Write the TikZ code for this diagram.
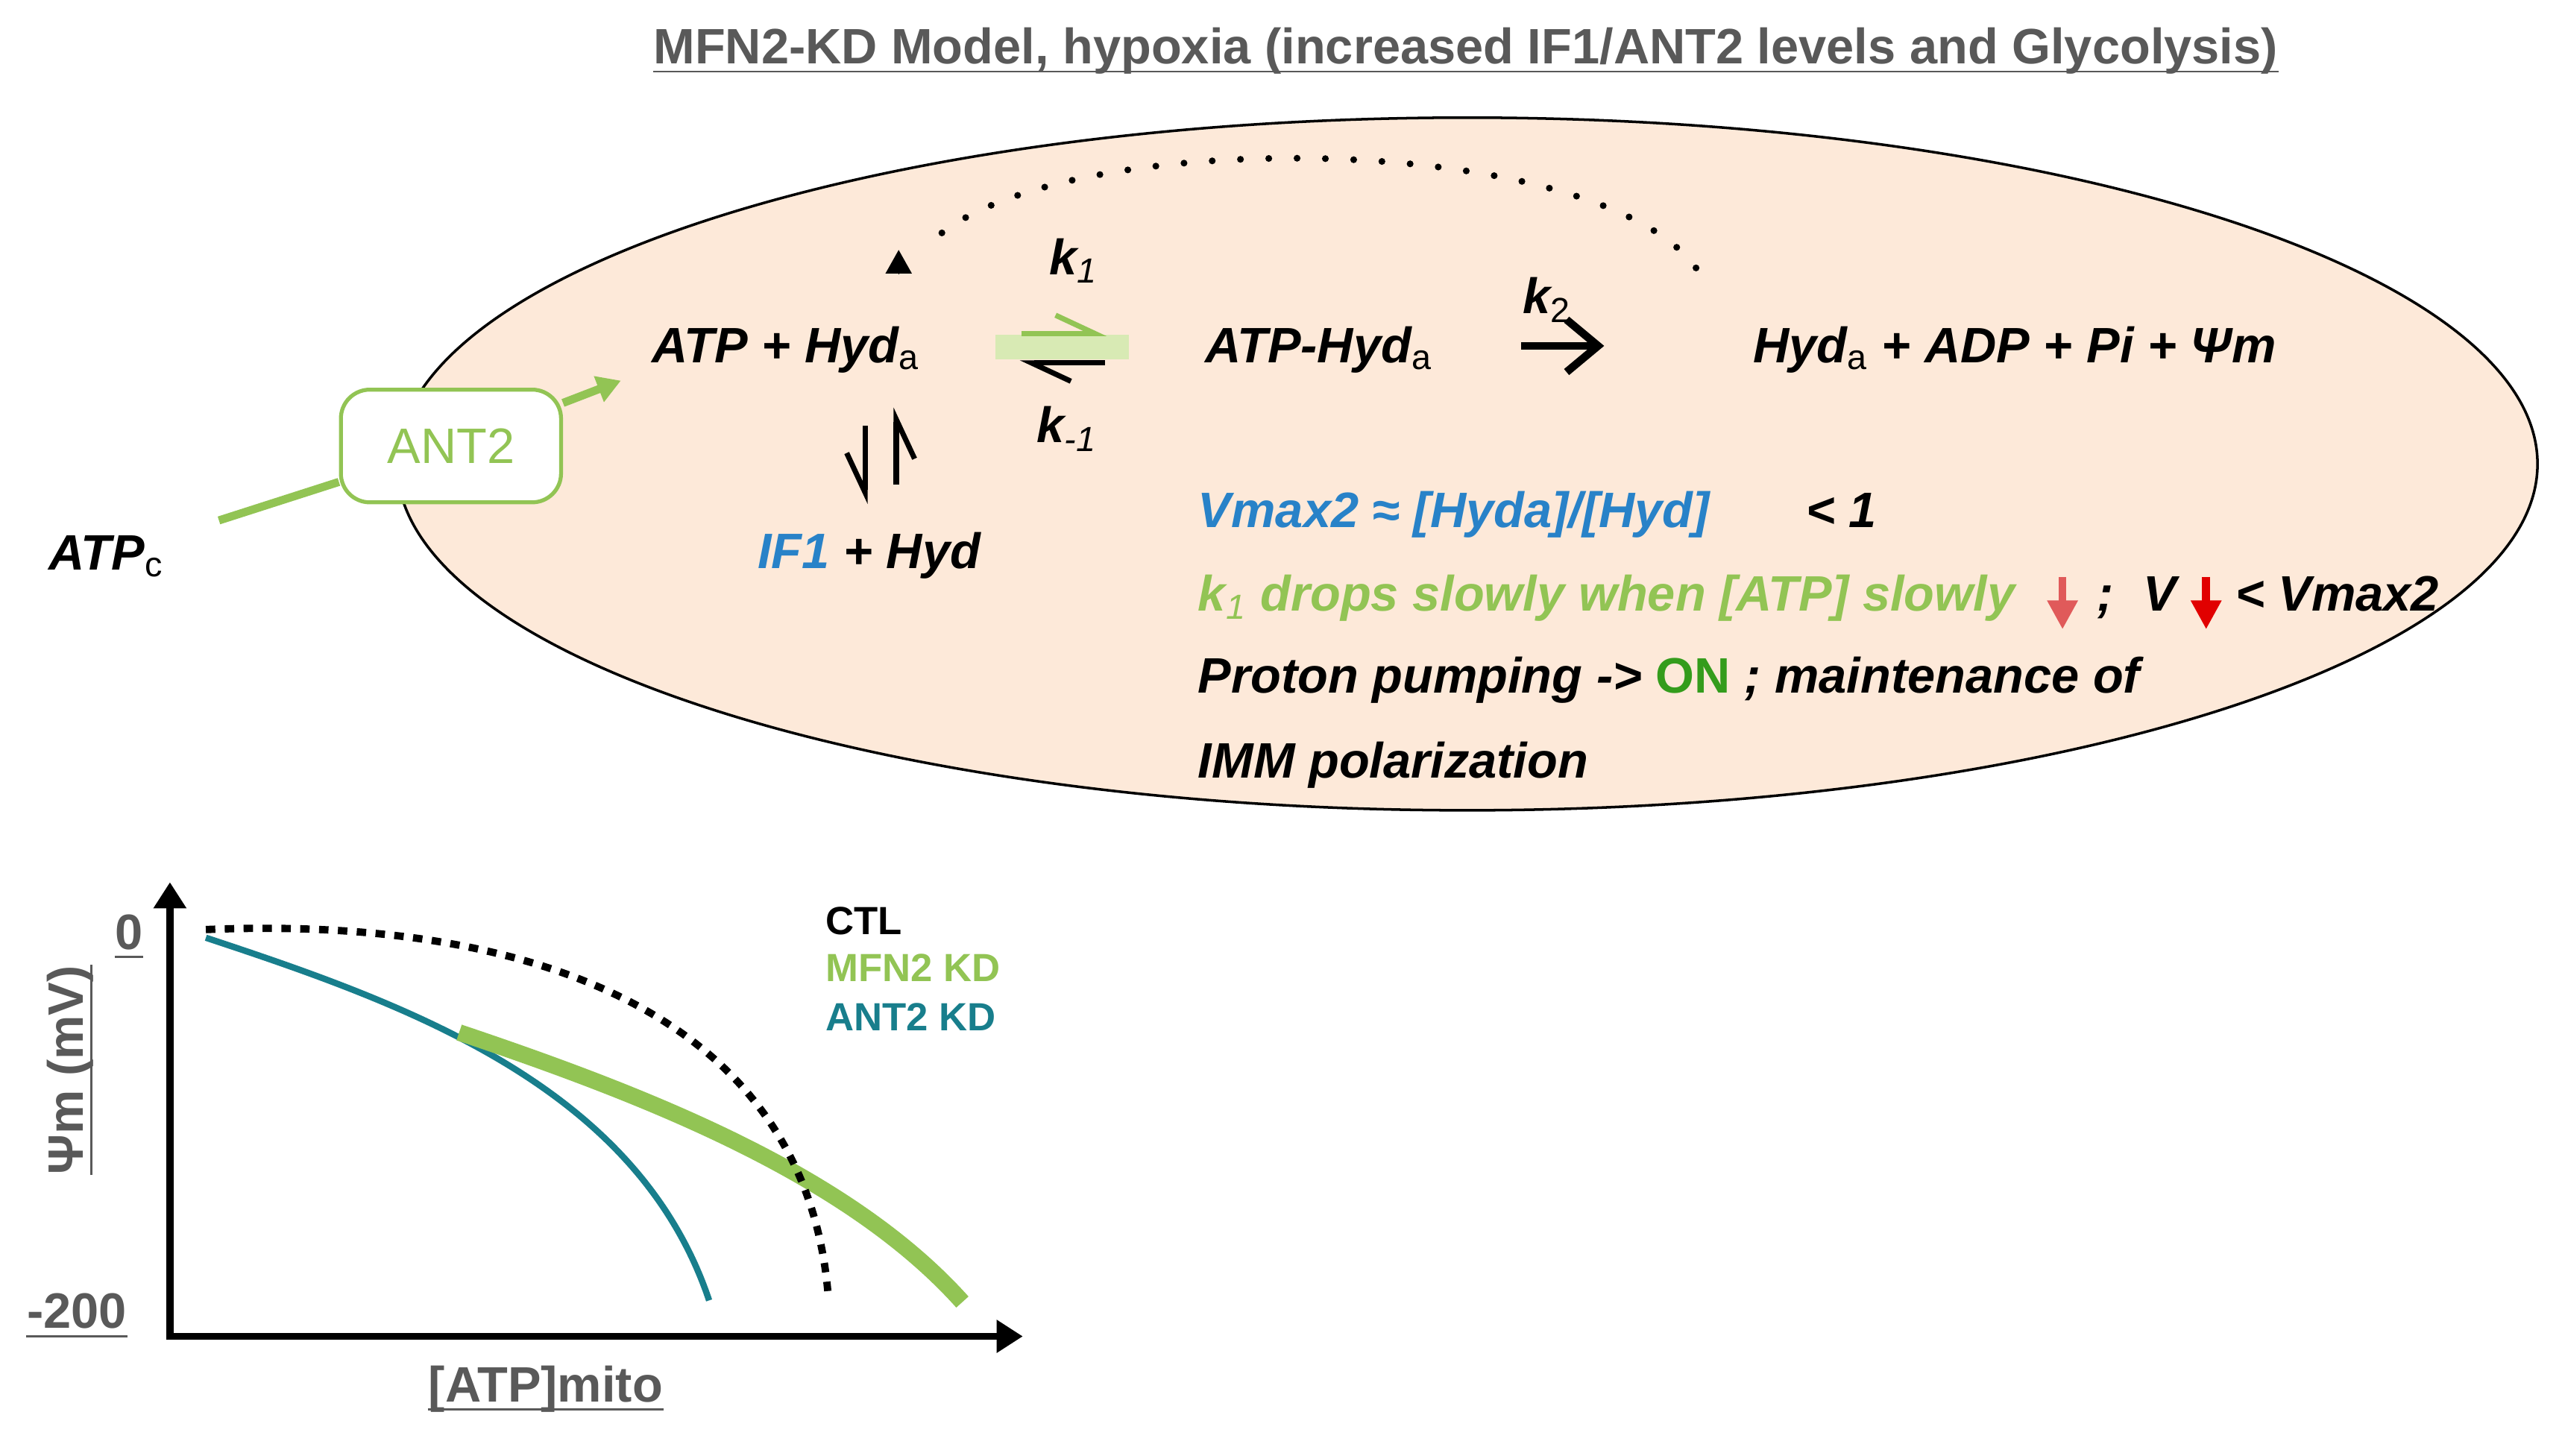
\documentclass[tikz,border=0pt]{standalone}
\usepackage{fontspec}
\setmainfont{Liberation Sans}
\usepackage{tikz}
\usetikzlibrary{arrows.meta,positioning,calc}
\definecolor{peach}{RGB}{253,233,217}
\definecolor{leaf}{RGB}{146,196,84}
\definecolor{paleleaf}{RGB}{216,234,180}
\definecolor{ongreen}{RGB}{52,156,28}
\definecolor{sky}{RGB}{40,130,200}
\definecolor{petrol}{RGB}{24,126,140}
\definecolor{slate}{RGB}{89,89,89}
\definecolor{rose}{RGB}{224,90,90}
\definecolor{scarlet}{RGB}{225,0,0}
\newcommand{\rxfont}{\fontsize{19}{22}\selectfont\bfseries\itshape}
\newcommand{\lowidx}[1]{\textsubscript{\mdseries\upshape #1}}

\begin{document}
\begin{tikzpicture}[x=0.021913cm, y=-0.021913cm,
  rx/.style={inner sep=0pt, anchor=base, font=\rxfont},
  note/.style={inner sep=0pt, anchor=base west, font=\rxfont},
  axlabel/.style={inner sep=0pt, anchor=base, text=slate, font=\fontsize{19}{22}\selectfont\bfseries},
  legend/.style={inner sep=0pt, anchor=base west, font=\fontsize{15}{18}\selectfont\bfseries},
  uline/.style={slate, line width=0.8pt},
  antbox/.style={draw=leaf, line width=1.5pt, fill=white, rounded corners=11pt,
    minimum width=84pt, minimum height=43pt, text=leaf, font=\fontsize{19}{22}\selectfont},
  antline/.style={leaf, line width=3.1pt},
  eqarr/.style={line width=2pt, -{Straight Barb[harpoon, length=15pt, width=14pt]}},
  eqdown/.style={line width=2pt, -{Straight Barb[harpoon, swap, length=15pt, width=14pt]}},
  rxto/.style={line width=3pt, -{Straight Barb[length=12pt, width=20pt]}},
  feedback/.style={line width=2.6pt, line cap=round, dash pattern=on 0pt off 10.8pt},
  redarr/.style={line width=3pt, -{Triangle[length=11pt, width=11pt]}},
  axis/.style={line width=2.8pt, line join=miter,
    {Triangle[length=10pt, width=12pt]}-{Triangle[length=10pt, width=12pt]}},
  ctl/.style={line width=2.8pt, dash pattern=on 3.6pt off 3.6pt},
  antkd/.style={petrol, line width=2.4pt},
  mfnkd/.style={leaf, line width=6.3pt}]
\useasboundingbox (0,0) rectangle (1568,891);

% Title
\node[axlabel] (title) at (897,39) {MFN2-KD Model, hypoxia (increased IF1/ANT2 levels and Glycolysis)};
\draw[uline] ([yshift=-3pt]title.base west) -- ([yshift=-3pt]title.base east);

% Mitochondrion
\draw[line width=1pt, fill=peach] (898,284) ellipse [x radius=655, y radius=212];
\fill[paleleaf] (609,205) rectangle (691,220);

% Reaction scheme
\node[rx] (ATPc) at (65,349) {ATP\lowidx{c}};
\node[antbox] (ANT2) at (276,273) {ANT2};
\coordinate (antin) at (380,233);
\node[rx] (atpHyd) at (481,222) {ATP + Hyd\lowidx{a}};
\node[rx] (cplx) at (807,222) {ATP-Hyd\lowidx{a}};
\node[rx] (prod) at (1233,222) {Hyd\lowidx{a} + ADP + Pi + Ψm};
\node[rx] (IF1) at (532,348) {\textcolor{sky}{IF1} + Hyd};
\node[rx] (k1) at (657,168) {k\textsubscript{\mdseries 1}};
\node[rx] (km1) at (653,271) {k\textsubscript{\mdseries -1}};
\node[rx] (k2) at (947,192) {k\lowidx{2}};

\draw[antline, shorten <=22pt] (ATPc) -- (ANT2);
\draw[antline, -{Triangle[length=9pt, width=10pt]}] (ANT2) -- (antin);
\draw[eqarr, leaf, shorten <=38.6pt, shorten >=37.3pt] ([yshift=6.2pt]atpHyd.east) -- ([yshift=6.2pt]cplx.west);
\draw[eqarr, shorten <=38pt, shorten >=38pt] ([yshift=-5pt]cplx.west) -- ([yshift=-5pt]atpHyd.east);
\draw[eqdown, shorten <=20pt, shorten >=10.6pt] ([xshift=-1.6pt]atpHyd.south -| IF1.north) -- ([xshift=-1.6pt]IF1.north);
\draw[eqdown, shorten <=18pt, shorten >=13pt] ([xshift=10.3pt]IF1.north) -- ([xshift=10.3pt]atpHyd.south -| IF1.north);
\draw[rxto, shorten <=33.7pt, shorten >=56.7pt] ([yshift=1.5pt]cplx.east) -- ([yshift=1.5pt]prod.west);

% Feedback loop
\coordinate (fbstart) at (1038,164);
\coordinate (fbend) at (568,150);
\coordinate (fbtip) at (550,153);
\draw[feedback] (fbstart) .. controls (975,78) and (640,76) .. (fbend);
\draw[line width=0.4pt, -{Triangle[length=9pt, width=10pt]}] ([yshift=-9pt]fbtip) -- (fbtip);

% Notes
\node[note, text=sky] (vmax) at (733,323) {Vmax2 ≈ [Hyda]/[Hyd]};
\node[note] (lt1) at (1105,323) {< 1};
\node[note, text=leaf] (drop) at (733,374) {k\textsubscript{\mdseries 1} drops slowly when [ATP] slowly};
\draw[redarr, rose] ([xshift=18pt, yshift=13pt]drop.base east) -- ([xshift=18pt, yshift=-7pt]drop.base east);
\node[note] (semi) at ([xshift=31pt]drop.base east) {;\hspace{0.6em}V};
\draw[redarr, scarlet] ([xshift=11pt, yshift=13pt]semi.base east) -- ([xshift=11pt, yshift=-7pt]semi.base east);
\node[note] (ltv) at ([xshift=22pt]semi.base east) {< Vmax2};
\node[note] (pump) at (733,424) {Proton pumping -> \textcolor{ongreen}{\upshape ON} ; maintenance of};
\node[note] (imm) at (733,476) {IMM polarization};

% Graph
\coordinate (O) at (104,818);
\coordinate (ytop) at (104,540);
\coordinate (xend) at (626,818);
\draw[axis] (ytop) -- (O) -- (xend);
\node[axlabel] (zero) at (79,581) {0};
\draw[uline] ([yshift=-3pt]zero.base west) -- ([yshift=-3pt]zero.base east);
\node[axlabel] (m200) at (47,813) {-200};
\draw[uline] ([yshift=-3pt]m200.base west) -- ([yshift=-3pt]m200.base east);
\node[axlabel] (atpm) at (334,858) {[ATP]mito};
\draw[uline] ([yshift=-3pt]atpm.base west) -- ([yshift=-3pt]atpm.base east);
\node[axlabel, rotate=90] (psim) at (51,655) {Ψm (mV)};
\draw[uline] ([xshift=3pt]psim.base west) -- ([xshift=3pt]psim.base east);

\draw[antkd] (126,574) .. controls (250,615) and (390,665) .. (434,796);
\draw[mfnkd] (281,632) .. controls (400,672) and (520,720) .. (589,797);
\draw[ctl] (126,569) .. controls (340,560) and (495,630) .. (507,795);

\node[legend] (lctl) at (505,572) {CTL};
\node[legend, text=leaf] (lmfn) at (505,601) {MFN2 KD};
\node[legend, text=petrol] (lant) at (505,631) {ANT2 KD};
\end{tikzpicture}
\end{document}
